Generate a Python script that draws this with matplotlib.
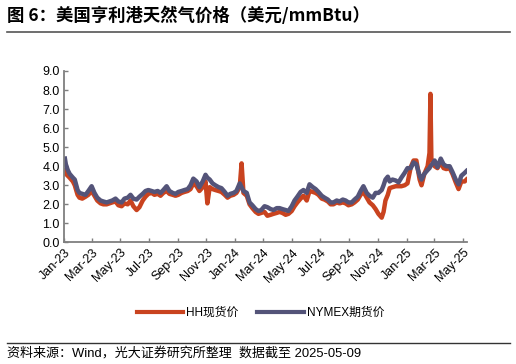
import datetime

import matplotlib
matplotlib.use("Agg")
import matplotlib.dates as mdates
import matplotlib.pyplot as plt
from matplotlib.lines import Line2D

# dates (trading days, roughly weekly, extra points at spikes)
dates = [
    "2023-01-03", "2023-01-05", "2023-01-09", "2023-01-13", "2023-01-20", "2023-01-24",
    "2023-01-30", "2023-02-03", "2023-02-09", "2023-02-16", "2023-02-22", "2023-03-01",
    "2023-03-07", "2023-03-13", "2023-03-20", "2023-03-26", "2023-04-02", "2023-04-08",
    "2023-04-14", "2023-04-21", "2023-04-27", "2023-05-04", "2023-05-10", "2023-05-17",
    "2023-05-23", "2023-05-29", "2023-06-05", "2023-06-11", "2023-06-18", "2023-06-24",
    "2023-06-30", "2023-07-07", "2023-07-13", "2023-07-20", "2023-07-26", "2023-08-01",
    "2023-08-08", "2023-08-14", "2023-08-21", "2023-08-27", "2023-09-02", "2023-09-09",
    "2023-09-15", "2023-09-22", "2023-09-28", "2023-10-04", "2023-10-11", "2023-10-17",
    "2023-10-24", "2023-10-30", "2023-11-03", "2023-11-08", "2023-11-14", "2023-11-20",
    "2023-11-27", "2023-12-03", "2023-12-10", "2023-12-16", "2023-12-22", "2023-12-29",
    "2024-01-04", "2024-01-11", "2024-01-15", "2024-01-19", "2024-01-26", "2024-02-01",
    "2024-02-07", "2024-02-14", "2024-02-20", "2024-02-26", "2024-03-04", "2024-03-10",
    "2024-03-17", "2024-03-23", "2024-03-30", "2024-04-05", "2024-04-11", "2024-04-18",
    "2024-04-24", "2024-05-01", "2024-05-07", "2024-05-13", "2024-05-20", "2024-05-26",
    "2024-06-02", "2024-06-08", "2024-06-15", "2024-06-21", "2024-06-27", "2024-07-04",
    "2024-07-10", "2024-07-17", "2024-07-23", "2024-07-29", "2024-08-05", "2024-08-11",
    "2024-08-18", "2024-08-24", "2024-08-30", "2024-09-06", "2024-09-12", "2024-09-19",
    "2024-09-25", "2024-10-01", "2024-10-08", "2024-10-14", "2024-10-21", "2024-10-27",
    "2024-11-02", "2024-11-09", "2024-11-13", "2024-11-17", "2024-11-22", "2024-11-26",
    "2024-12-02", "2024-12-09", "2024-12-15", "2024-12-21", "2024-12-28", "2025-01-03",
    "2025-01-10", "2025-01-16", "2025-01-22", "2025-01-29", "2025-02-02", "2025-02-08",
    "2025-02-15", "2025-02-19", "2025-02-21", "2025-02-23", "2025-03-02", "2025-03-08",
    "2025-03-15", "2025-03-21", "2025-03-27", "2025-04-03", "2025-04-09", "2025-04-16",
    "2025-04-22", "2025-04-28", "2025-05-05", "2025-05-09",
]

# Henry Hub spot, USD/mmBtu
hh_spot = [
    3.8, 3.6, 3.5, 3.4, 3.2, 3.0, 2.5, 2.35, 2.3, 2.4, 2.5, 2.7,
    2.45, 2.2, 2.05, 2.0, 2.0, 2.05, 2.1, 2.15, 1.95, 1.9, 2.05, 2.0,
    2.2, 1.9, 1.7, 1.85, 2.2, 2.4, 2.55, 2.6, 2.5, 2.55, 2.45, 2.6,
    2.7, 2.55, 2.5, 2.45, 2.5, 2.6, 2.65, 2.7, 2.8, 3.1, 2.95, 2.7,
    2.9, 3.2, 2.05, 2.9, 2.8, 2.75, 2.7, 2.65, 2.5, 2.35, 2.45, 2.5,
    2.6, 2.9, 4.15, 2.6, 2.45, 2.0, 1.8, 1.6, 1.5, 1.55, 1.6, 1.4,
    1.45, 1.5, 1.55, 1.6, 1.55, 1.45, 1.5, 1.65, 1.9, 2.1, 2.3, 2.45,
    2.2, 2.7, 2.65, 2.6, 2.5, 2.3, 2.25, 2.15, 2.0, 2.0, 2.1, 2.05,
    2.1, 2.05, 1.95, 2.0, 2.1, 2.25, 2.5, 2.65, 2.35, 2.1, 1.95, 1.75,
    1.5, 1.3, 1.6, 2.2, 2.5, 2.85, 2.9, 2.95, 2.95, 2.95, 3.0, 3.1,
    3.95, 4.3, 4.3, 3.3, 3.0, 3.6, 4.0, 4.7, 7.8, 4.4, 4.0, 3.9,
    4.2, 3.9, 3.85, 3.9, 3.6, 3.15, 2.8, 3.2, 3.2, 3.3,
]

# NYMEX front-month futures, USD/mmBtu
nymex_fut = [
    4.4, 4.1, 3.8, 3.6, 3.4, 3.3, 2.75, 2.6, 2.55, 2.5, 2.7, 2.95,
    2.6, 2.35, 2.2, 2.15, 2.1, 2.15, 2.2, 2.3, 2.15, 2.1, 2.3, 2.35,
    2.5, 2.3, 2.25, 2.4, 2.55, 2.7, 2.75, 2.7, 2.65, 2.7, 2.6, 2.75,
    2.95, 2.7, 2.6, 2.55, 2.65, 2.7, 2.75, 2.8, 3.0, 3.35, 3.2, 2.9,
    3.2, 3.55, 3.4, 3.3, 3.1, 3.0, 2.9, 2.85, 2.65, 2.45, 2.55, 2.6,
    2.7, 3.1, 2.9, 2.7, 2.6, 2.1, 1.95, 1.75, 1.65, 1.7, 1.9, 1.85,
    1.75, 1.7, 1.8, 1.8, 1.75, 1.7, 1.65, 1.9, 2.2, 2.4, 2.65, 2.75,
    2.6, 3.05, 2.9, 2.8, 2.65, 2.45, 2.35, 2.25, 2.1, 2.1, 2.2, 2.15,
    2.25, 2.2, 2.1, 2.1, 2.25, 2.4, 2.7, 2.95, 2.6, 2.45, 2.35, 2.6,
    2.6, 2.75, 3.0, 3.3, 3.45, 3.2, 3.3, 3.25, 3.15, 3.4, 3.65, 3.9,
    3.9, 4.2, 4.1, 3.5, 3.3, 3.6, 3.8, 3.9, 4.0, 4.05, 4.3, 3.95,
    4.4, 4.1, 4.0, 4.0, 3.7, 3.3, 3.05, 3.5, 3.65, 3.75,
]

x_dates = [datetime.datetime.strptime(d, "%Y-%m-%d") for d in dates]

HH_COLOR = "#C9431F"
NYMEX_COLOR = "#545479"
CJK = ["Liberation Sans", "Noto Sans CJK SC"]

fig = plt.figure(figsize=(5.16, 3.64), dpi=100)
ax = fig.add_axes([0.124, 0.334, 0.781, 0.471])

ax.plot(x_dates, hh_spot, color=HH_COLOR, lw=3.2, solid_joinstyle="round")
ax.plot(x_dates, nymex_fut, color=NYMEX_COLOR, lw=3.2, solid_joinstyle="round")

ax.set_ylim(0, 9)
ax.set_yticks(range(0, 10))
ax.yaxis.set_major_formatter(matplotlib.ticker.FormatStrFormatter("%.1f"))
ax.set_xlim(datetime.datetime(2023, 1, 1), datetime.datetime(2025, 5, 10))
ax.xaxis.set_major_locator(mdates.MonthLocator(bymonth=[1, 3, 5, 7, 9, 11]))
ax.xaxis.set_major_formatter(mdates.DateFormatter("%b-%y"))

for side in ("top", "right"):
    ax.spines[side].set_visible(False)
for side in ("left", "bottom"):
    ax.spines[side].set_color("#7f7f7f")
    ax.spines[side].set_linewidth(1.3)
ax.tick_params(direction="in", length=3, width=1, color="#7f7f7f",
               labelsize=9, labelcolor="black", pad=3)
for lbl in ax.get_xticklabels():
    lbl.set_rotation(45)
    lbl.set_ha("right")
    lbl.set_rotation_mode("anchor")
    lbl.set_family("Liberation Sans")
for lbl in ax.get_yticklabels():
    lbl.set_family("Liberation Sans")

# legend below the axes
handles = [
    Line2D([], [], color=HH_COLOR, lw=3),
    Line2D([], [], color=NYMEX_COLOR, lw=3),
]
fig.legend(handles, ["HH现货价", "NYMEX期货价"], loc="center",
           bbox_to_anchor=(0.505, 1 - 313 / 364), ncol=2, frameon=False,
           prop={"family": CJK, "size": 8.5}, handlelength=3.9,
           columnspacing=1.6, handletextpad=0.3)

# title and source
fig.text(7 / 516, 1 - 16 / 364, "图 6：美国亨利港天然气价格（美元/mmBtu）",
         family=["Noto Sans CJK SC"], weight="bold", size=12.5, va="center")
fig.add_artist(Line2D([7 / 516, 510 / 516], [1 - 32 / 364] * 2,
                      color="#555555", lw=1.2))
fig.add_artist(Line2D([7 / 516, 510 / 516], [1 - 343 / 364] * 2,
                      color="#333333", lw=1.0))
fig.text(7 / 516, 1 - 353 / 364, "资料来源：Wind，光大证券研究所整理  数据截至 2025-05-09",
         family=CJK, size=9.4, va="center")

fig.savefig("out.png", dpi=100)
